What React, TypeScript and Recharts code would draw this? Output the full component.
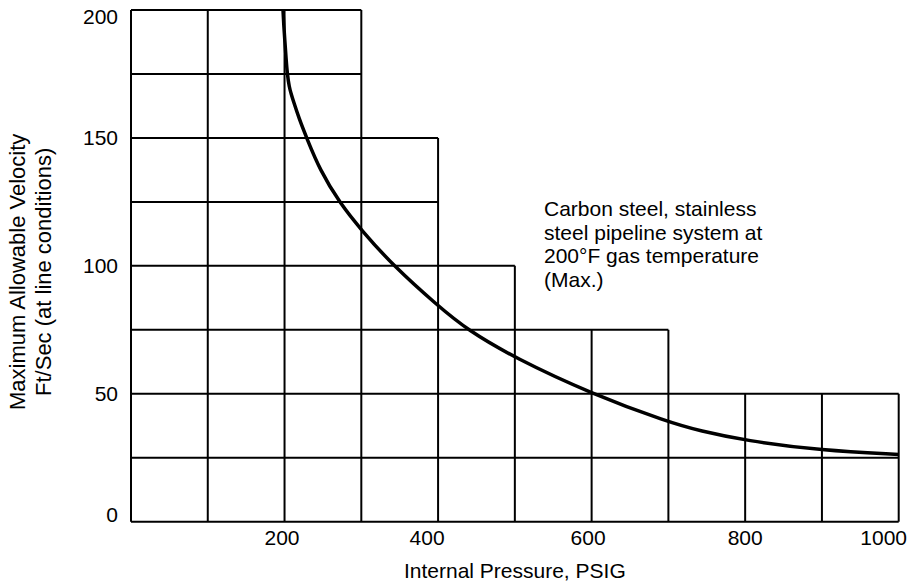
import React from 'react';
import { LineChart, Line, XAxis, YAxis, ReferenceLine, ReferenceDot, Label } from 'recharts';

// Curve
const pressure = [198, 199, 200.5, 202, 203.6, 206, 209, 211.4, 219, 228.8, 246, 272, 300, 341.7, 400, 438, 500, 600, 700, 741, 800, 900, 1000];
const velocity = [200, 194, 187.5, 181, 175, 170, 166.8, 164.5, 157.5, 150, 137.5, 124.5, 114, 100, 84.3, 75, 64, 50, 38.9, 35.5, 31.7, 27.8, 26.3];

const xTicks = [200, 400, 600, 800, 1000];
const yTicks = [0, 50, 100, 150, 200];

// Stepped grid: horizontal rules (level, right end) and vertical rules (position, top)
const rowLevels = [25, 50, 75, 100, 125, 150, 175, 200];
const rowEnds = [1000, 1000, 700, 500, 400, 400, 300, 300];
const colPositions = [100, 200, 300, 400, 500, 600, 700, 800, 900, 1000];
const colTops = [200, 200, 200, 150, 100, 75, 75, 50, 50, 50];

const noteLines = ['Carbon steel, stainless', 'steel pipeline system at', '200°F gas temperature', '(Max.)'];

const xTitle = 'Internal Pressure, PSIG';
const yTitleLines = ['Maximum Allowable Velocity', 'Ft/Sec (at line conditions)'];

const data = pressure.map((p, i) => ({ p, v: velocity[i] }));

const FONT = '"Liberation Sans", Arial, Helvetica, sans-serif';
const FS = 21;

const XTick = (props: any) => {
  const { x, y, payload } = props;
  const v = payload.value;
  let anchor: any = 'middle';
  let dx = 0;
  if (v === 200) dx = -2.5;
  if (v === 400) dx = -11;
  if (v === 600) dx = -3.5;
  if (v === 1000) {
    anchor = 'end';
    dx = 12;
  }
  return (
    <text x={x + dx} y={y + 21} textAnchor={anchor} fontFamily={FONT} fontSize={FS} fill="#000">
      {v}
    </text>
  );
};

const YTick = (props: any) => {
  const { x, y, payload } = props;
  let dy = 7.5;
  if (payload.value === 200) dy = 13.5;
  if (payload.value === 0) dy = 0;
  return (
    <text x={x} y={y + dy} textAnchor="end" fontFamily={FONT} fontSize={FS} fill="#000">
      {payload.value}
    </text>
  );
};

const YTitle = (props: any) => {
  const vb = props.viewBox || {};
  const cy = vb.y + vb.height / 2 + 6;
  const xs = [vb.x + 25.5, vb.x + 51.5];
  return (
    <g>
      {yTitleLines.map((t, i) => (
        <text
          key={i}
          x={xs[i]}
          y={cy}
          transform={`rotate(-90, ${xs[i]}, ${cy})`}
          textAnchor="middle"
          fontFamily={FONT}
          fontSize={22}
          fill="#000"
        >
          {t}
        </text>
      ))}
    </g>
  );
};

const XTitle = (props: any) => {
  const vb = props.viewBox || {};
  return (
    <text
      x={vb.x + vb.width / 2}
      y={vb.y + 56.5}
      textAnchor="middle"
      fontFamily={FONT}
      fontSize={FS}
      fill="#000"
    >
      {xTitle}
    </text>
  );
};

const NoteLabel = (props: any) => {
  const vb = props.viewBox || {};
  const x = vb.x + (vb.width || 0) / 2;
  const y = vb.y + (vb.height || 0) / 2;
  return (
    <text x={x} y={y} fontFamily={FONT} fontSize={FS} fill="#000">
      {noteLines.map((t, i) => (
        <tspan key={i} x={x} y={y + i * 23.8}>
          {t}
        </tspan>
      ))}
    </text>
  );
};

export default function App() {
  return (
    <div style={{ position: 'absolute', left: 0, top: 0, background: '#fff' }}>
      <LineChart
        width={911}
        height={584}
        data={data}
        margin={{ top: 10, right: 12.3, left: 0, bottom: 32.3 }}
      >
        <XAxis
          dataKey="p"
          type="number"
          domain={[0, 1000]}
          ticks={xTicks}
          tickLine={false}
          tickSize={0}
          tick={<XTick />}
          axisLine={{ stroke: '#000', strokeWidth: 2 }}
          height={30}
          allowDataOverflow
        >
          <Label content={<XTitle />} />
        </XAxis>
        <YAxis
          type="number"
          domain={[0, 200]}
          ticks={yTicks}
          tickLine={false}
          tickSize={0}
          tickMargin={13}
          tick={<YTick />}
          axisLine={{ stroke: '#000', strokeWidth: 2 }}
          width={131}
          allowDataOverflow
        >
          <Label content={<YTitle />} />
        </YAxis>
        {rowLevels.map((lv, i) => (
          <ReferenceLine
            key={`r${i}`}
            segment={[{ x: 0, y: lv }, { x: rowEnds[i], y: lv }]}
            stroke="#000"
            strokeWidth={2}
            ifOverflow="visible"
          />
        ))}
        {colPositions.map((c, i) => (
          <ReferenceLine
            key={`c${i}`}
            segment={[{ x: c, y: 0 }, { x: c, y: colTops[i] }]}
            stroke="#000"
            strokeWidth={2}
            ifOverflow="visible"
          />
        ))}
        <Line
          dataKey="v"
          type="basis"
          stroke="#000"
          strokeWidth={3.5}
          dot={false}
          activeDot={false}
          isAnimationActive={false}
        />
        <ReferenceDot
          x={538}
          y={119.6}
          r={0}
          fill="none"
          stroke="none"
          ifOverflow="visible"
          label={<NoteLabel />}
        />
      </LineChart>
    </div>
  );
}
